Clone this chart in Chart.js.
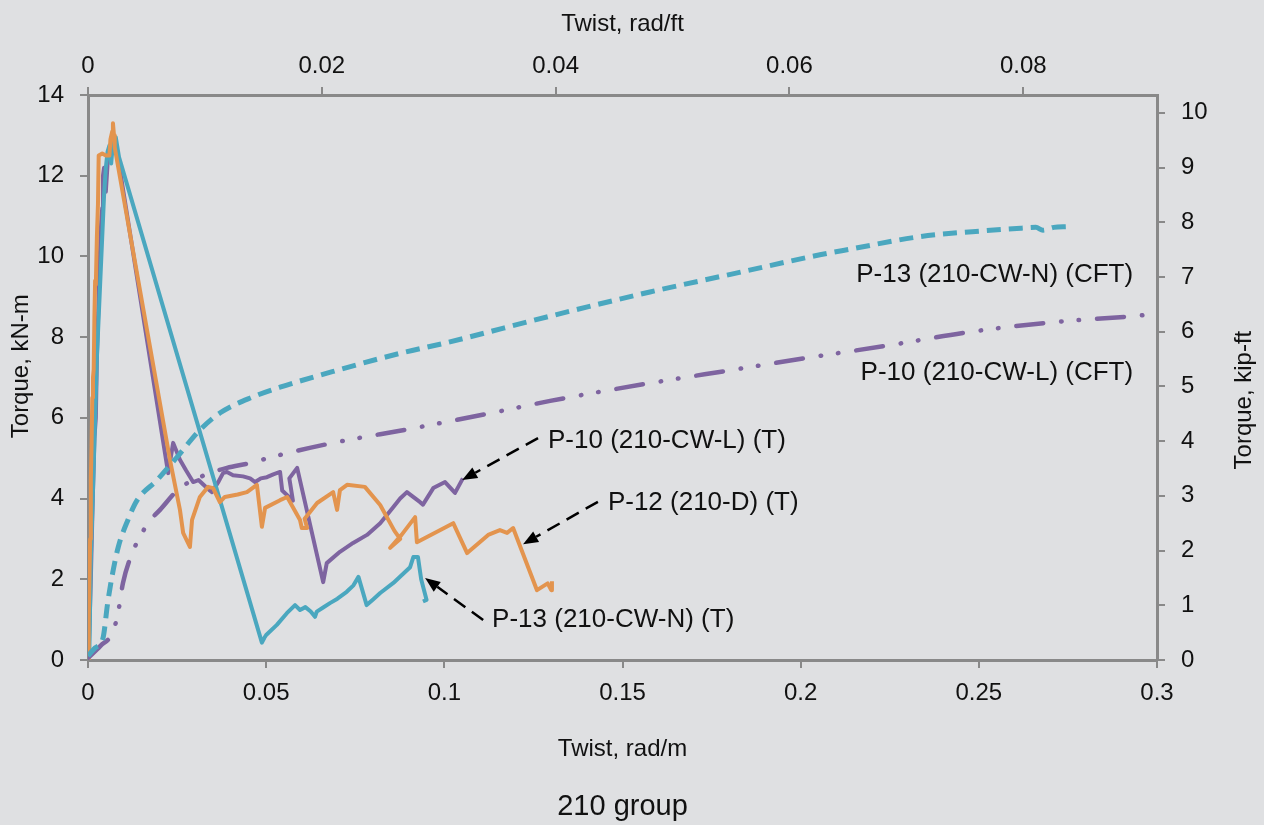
<!DOCTYPE html>
<html>
<head>
<meta charset="utf-8">
<title>210 group</title>
<script src="https://cdn.jsdelivr.net/npm/chart.js@4.4.1/dist/chart.umd.min.js"></script>
<style>
    html, body { margin: 0; padding: 0; background: #dfe0e2; }
    #wrap { width: 1264px; height: 825px; position: relative; }
</style>
</head>
<body>
<div id="wrap"><canvas id="myChart"></canvas></div>
<script>
// Twist (rad/m) and torque (kN-m)

// P-13 (210-CW-N) (T)
const p13tX = [0, 0.0004, 0.0008, 0.0015, 0.0025, 0.0034, 0.004, 0.0045, 0.005, 0.0055, 0.006, 0.0065, 0.007, 0.0078, 0.0087,
    0.0488, 0.0495, 0.050, 0.053, 0.0558, 0.0581, 0.0595, 0.061, 0.0625, 0.0637, 0.0642, 0.066, 0.0679, 0.070, 0.0726,
    0.0745, 0.0759, 0.0782, 0.080, 0.082, 0.0857, 0.088, 0.0904, 0.0913, 0.0926, 0.0935, 0.095, 0.094];
const p13tY = [0, 0.3, 2.5, 4.5, 7.5, 9.3, 10.5, 11.5, 12.2, 12.6, 12.75, 12.3, 12.8, 12.95, 12.46,
    0.43, 0.55, 0.62, 0.87, 1.16, 1.36, 1.24, 1.31, 1.2, 1.07, 1.2, 1.3, 1.41, 1.52, 1.69,
    1.85, 2.06, 1.36, 1.5, 1.66, 1.91, 2.1, 2.3, 2.55, 2.55, 2.0, 1.49, 1.45];

// P-10 (210-CW-L) (T)
const p10tX = [0, 0.0003, 0.0008, 0.0012, 0.0018, 0.0022, 0.0025, 0.003, 0.0035, 0.0038, 0.004, 0.0042, 0.0045, 0.005, 0.0055,
    0.006, 0.0068, 0.0076, 0.0225, 0.0239, 0.0258, 0.0275, 0.0295, 0.031, 0.0334, 0.0348, 0.0365, 0.0379, 0.039, 0.0407,
    0.0435, 0.0455, 0.0469, 0.0485, 0.0502, 0.052, 0.0539, 0.0545, 0.0575, 0.0565, 0.0587, 0.066, 0.067, 0.0707, 0.0744,
    0.0783, 0.082, 0.0857, 0.0876, 0.0895, 0.0932, 0.094, 0.0969, 0.1002, 0.103, 0.1052];
const p10tY = [0, 0.5, 2, 3.5, 5.5, 6, 7.5, 9, 10.5, 11, 11.2, 12.0, 12.2, 11.6, 12.3,
    12.6, 12.8, 12.9, 4.63, 5.38, 4.96, 4.7, 4.41, 4.46, 4.26, 4.16, 4.4, 4.63, 4.66, 4.58,
    4.55, 4.5, 4.41, 4.5, 4.53, 4.6, 4.66, 4.2, 3.95, 4.5, 4.76, 1.93, 2.4, 2.68, 2.9,
    3.1, 3.39, 3.79, 4.0, 4.16, 3.91, 3.85, 4.26, 4.41, 4.14, 4.5];

// P-12 (210-D) (T)
const p12tX = [0, 0.0002, 0.0004, 0.0006, 0.0008, 0.001, 0.0012, 0.0014, 0.0016, 0.0018, 0.002, 0.0022, 0.0025, 0.0028, 0.003,
    0.004, 0.005, 0.006, 0.0063, 0.0068, 0.0070, 0.0073, 0.0075, 0.023, 0.0258, 0.0267, 0.0286, 0.0292, 0.0314, 0.0337,
    0.0351, 0.037, 0.0384, 0.042, 0.0446, 0.0474, 0.0488, 0.0497, 0.0539, 0.0559, 0.0595, 0.06, 0.0615, 0.0608, 0.0643,
    0.0688, 0.0699, 0.0707, 0.0727, 0.0777, 0.082, 0.086, 0.0876, 0.0848, 0.088, 0.0918, 0.0923, 0.1025, 0.1064, 0.1123,
    0.1156, 0.1176, 0.1193, 0.126, 0.129, 0.130, 0.1302];
const p12tY = [0, 1, 2, 3.0, 4.5, 5.3, 6.5, 7.0, 7.2, 8.5, 9.4, 9.3, 10.5, 11.3, 12.5,
    12.55, 12.5, 12.5, 12.9, 13.1, 13.3, 13.0, 12.7, 4.96, 3.72, 3.15, 2.8, 3.47, 4.04, 4.29,
    4.26, 3.91, 4.04, 4.1, 4.16, 4.34, 3.3, 3.77, 3.96, 4.04, 3.47, 3.27, 3.27, 3.5, 3.89,
    4.16, 3.72, 4.21, 4.34, 4.29, 3.84, 3.2, 3.0, 2.78, 3.1, 3.54, 2.92, 3.39, 2.65, 3.1,
    3.22, 3.15, 3.27, 1.73, 1.9, 1.73, 1.95];

// P-13 (210-CW-N) (CFT)
const p13cX = [0, 0.002, 0.0042, 0.0055, 0.0068, 0.0085, 0.0112, 0.0138, 0.0194, 0.025, 0.0314, 0.037, 0.0463, 0.0539, 0.0688,
    0.0876, 0.1, 0.1297, 0.1577, 0.18, 0.2054, 0.2139, 0.2335, 0.252, 0.262, 0.266, 0.268, 0.271, 0.275];
const p13cY = [0.1, 0.3, 0.54, 1.4, 2.1, 2.8, 3.47, 3.96, 4.46, 5.03, 5.7, 6.12, 6.52, 6.76, 7.15,
    7.6, 7.85, 8.52, 9.12, 9.55, 10.04, 10.18, 10.49, 10.64, 10.7, 10.72, 10.65, 10.72, 10.74];

// P-10 (210-CW-L) (CFT)
const p10cX = [0, 0.0035, 0.007, 0.0085, 0.0098, 0.0124, 0.0146, 0.0168, 0.0202, 0.0258, 0.0342, 0.039, 0.0455, 0.0516, 0.0688,
    0.0912, 0.1148, 0.1297, 0.1577, 0.181, 0.2035, 0.225, 0.2475, 0.2708, 0.2933, 0.3];
const p10cY = [0.05, 0.35, 0.7, 1.2, 1.9, 2.65, 3.05, 3.39, 3.72, 4.26, 4.63, 4.76, 4.88, 5.03, 5.38,
    5.74, 6.15, 6.42, 6.86, 7.19, 7.51, 7.8, 8.13, 8.37, 8.52, 8.58];

// Tick values of the secondary axes (rad/ft on top, kip-ft on the right)
const topTicks = [0, 0.02, 0.04, 0.06, 0.08];
const rightTicks = [0, 1, 2, 3, 4, 5, 6, 7, 8, 9, 10];

// Labels on the plot (data coordinates) and their arrows
const noteText = ['P-13 (210-CW-N) (CFT)', 'P-10 (210-CW-L) (CFT)', 'P-10 (210-CW-L) (T)', 'P-12 (210-D) (T)', 'P-13 (210-CW-N) (T)'];
const noteX = [0.2933, 0.2933, 0.1291, 0.1459, 0.1134];
const noteY = [9.54, 7.11, 5.43, 3.89, 0.99];
const noteAlign = ['right', 'right', 'left', 'left', 'left'];
const arrowFrom = [[0.1263, 5.50], [0.1431, 3.92], [0.1109, 0.99]];
const arrowTo = [[0.1050, 4.46], [0.1221, 2.87], [0.0946, 2.03]];

// Unit conversions for the secondary axes
const FT_PER_M = 0.3048;
const KNM_PER_KIPFT = 1.35582;

const TEAL = '#4aa7bf';
const PURPLE = '#7e64a0';
const ORANGE = '#e3944e';
const AXIS = '#898989';
const TXT = '#111111';
const FONT = "'Liberation Sans', Arial, sans-serif";

function zip(xs, ys) {
    return xs.map(function (x, i) { return {x: x, y: ys[i]}; });
}

function fmt(v) {
    return String(+v.toFixed(4));
}

// Tick marks only, no grid inside the plot
function grid() {
    return {drawOnChartArea: false, drawTicks: true, tickLength: 8, color: AXIS, lineWidth: 2};
}

function tickFont() {
    return {size: 24, family: FONT};
}

// Texts, arrows, side titles and caption
const decor = {
    id: 'decor',
    afterDatasetsDraw(chart) {
        const ctx = chart.ctx;
        const sx = chart.scales.x;
        const sy = chart.scales.y;
        const area = chart.chartArea;
        ctx.save();

        // dashed arrows
        ctx.strokeStyle = '#000';
        ctx.fillStyle = '#000';
        ctx.lineWidth = 2.5;
        for (let i = 0; i < arrowFrom.length; i++) {
            const x0 = sx.getPixelForValue(arrowFrom[i][0]);
            const y0 = sy.getPixelForValue(arrowFrom[i][1]);
            const x1 = sx.getPixelForValue(arrowTo[i][0]);
            const y1 = sy.getPixelForValue(arrowTo[i][1]);
            const ang = Math.atan2(y1 - y0, x1 - x0);
            const hl = 15, hw = 6;
            const bx = x1 - hl * Math.cos(ang);
            const by = y1 - hl * Math.sin(ang);
            ctx.setLineDash([14, 8]);
            ctx.beginPath();
            ctx.moveTo(x0, y0);
            ctx.lineTo(bx, by);
            ctx.stroke();
            ctx.setLineDash([]);
            ctx.beginPath();
            ctx.moveTo(x1, y1);
            ctx.lineTo(bx + hw * Math.sin(ang), by - hw * Math.cos(ang));
            ctx.lineTo(bx - hw * Math.sin(ang), by + hw * Math.cos(ang));
            ctx.closePath();
            ctx.fill();
        }

        // series labels
        ctx.font = '26px ' + FONT;
        ctx.fillStyle = TXT;
        ctx.textBaseline = 'middle';
        for (let i = 0; i < noteText.length; i++) {
            ctx.textAlign = noteAlign[i];
            ctx.fillText(noteText[i], sx.getPixelForValue(noteX[i]), sy.getPixelForValue(noteY[i]));
        }

        // vertical axis titles, both read bottom to top
        ctx.font = '24px ' + FONT;
        ctx.textAlign = 'center';
        ctx.save();
        ctx.translate(21, area.top + (area.bottom - area.top) * 0.48);
        ctx.rotate(-Math.PI / 2);
        ctx.fillText('Torque, kN-m', 0, 0);
        ctx.restore();
        ctx.save();
        ctx.translate(1244, area.top + (area.bottom - area.top) * 0.54);
        ctx.rotate(-Math.PI / 2);
        ctx.fillText('Torque, kip-ft', 0, 0);
        ctx.restore();

        // caption under the chart
        ctx.font = '29px ' + FONT;
        ctx.textBaseline = 'alphabetic';
        ctx.fillText('210 group', (area.left + area.right) / 2, 815);
        ctx.restore();
    }
};

new Chart(document.getElementById('myChart').getContext('2d'), {
    type: 'line',
    data: {
        datasets: [{
            label: 'P-13 (210-CW-N) (CFT)',
            data: zip(p13cX, p13cY),
            borderColor: TEAL,
            borderWidth: 5,
            borderDash: [14, 8],
            cubicInterpolationMode: 'monotone'
        }, {
            label: 'P-10 (210-CW-L) (CFT)',
            data: zip(p10cX, p10cY),
            borderColor: PURPLE,
            borderWidth: 4.5,
            borderDash: [27, 18, 0.5, 17, 0.5, 18],
            borderCapStyle: 'round',
            cubicInterpolationMode: 'monotone'
        }, {
            label: 'P-12 (210-D) (T)',
            data: zip(p12tX, p12tY),
            borderColor: ORANGE,
            borderWidth: 4
        }, {
            label: 'P-13 (210-CW-N) (T)',
            data: zip(p13tX, p13tY),
            borderColor: TEAL,
            borderWidth: 4
        }, {
            label: 'P-10 (210-CW-L) (T)',
            data: zip(p10tX, p10tY),
            borderColor: PURPLE,
            borderWidth: 4
        }]
    },
    options: {
        responsive: true,
        maintainAspectRatio: false,
        animation: false,
        parsing: false,
        layout: {padding: 0},
        elements: {
            point: {radius: 0},
            line: {tension: 0, fill: false, borderJoinStyle: 'round'}
        },
        plugins: {
            legend: {display: false},
            tooltip: {enabled: false}
        },
        scales: {
            x: {
                type: 'linear',
                position: 'bottom',
                min: 0,
                max: 0.3,
                ticks: {stepSize: 0.05, padding: 11, color: TXT, font: tickFont(), callback: fmt, maxRotation: 0},
                grid: grid(),
                border: {color: AXIS, width: 3},
                title: {display: true, text: 'Twist, rad/m', color: TXT, font: tickFont(), padding: {top: 0, bottom: 61}},
                afterFit: function (s) { s.height = 165; }
            },
            x2: {
                type: 'linear',
                position: 'top',
                min: 0,
                max: 0.3 * FT_PER_M,
                ticks: {padding: 6, color: TXT, font: tickFont(), callback: fmt, maxRotation: 0},
                grid: grid(),
                border: {color: AXIS, width: 3},
                title: {display: true, text: 'Twist, rad/ft', color: TXT, font: tickFont(), padding: {top: 10, bottom: 0}},
                afterBuildTicks: function (s) { s.ticks = topTicks.map(function (v) { return {value: v}; }); },
                afterFit: function (s) { s.height = 95; }
            },
            y: {
                type: 'linear',
                position: 'left',
                min: 0,
                max: 14,
                ticks: {stepSize: 2, padding: 16, color: TXT, font: tickFont()},
                grid: grid(),
                border: {color: AXIS, width: 3},
                afterFit: function (s) { s.width = 88; }
            },
            y2: {
                type: 'linear',
                position: 'right',
                min: 0,
                max: 14 / KNM_PER_KIPFT,
                ticks: {padding: 16, color: TXT, font: tickFont(), callback: fmt},
                grid: grid(),
                border: {color: AXIS, width: 3},
                afterBuildTicks: function (s) { s.ticks = rightTicks.map(function (v) { return {value: v}; }); },
                afterFit: function (s) { s.width = 107; }
            }
        }
    },
    plugins: [decor]
});
</script>
</body>
</html>
